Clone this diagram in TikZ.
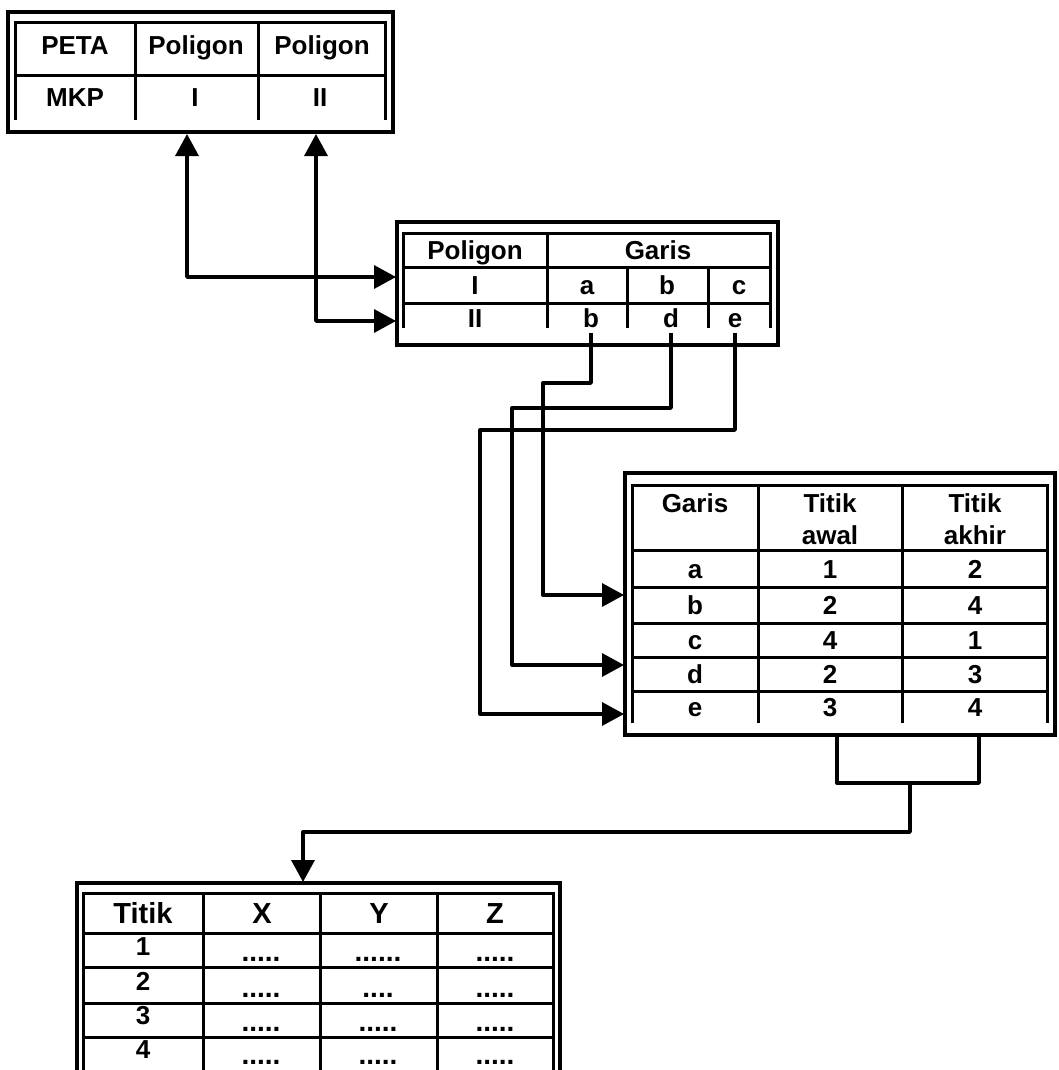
\documentclass[tikz,border=0pt]{standalone}
\usepackage{fontspec}
\setmainfont{Liberation Sans}
\usetikzlibrary{arrows.meta}
\begin{document}
\begin{tikzpicture}[x=1pt,y=-1pt,
  outer/.style={line width=4.4pt},
  inner/.style={line width=3pt},
  conn/.style={line width=3.4pt, line join=round},
  tiparrow/.style={-{Triangle[length=22pt,width=23pt]}},
  bothtips/.style={{Triangle[length=22pt,width=23pt]}-{Triangle[length=22pt,width=23pt]}},
  t/.style={font=\fontsize{26}{28}\selectfont\bfseries, inner sep=0pt, text height=18.5pt, text depth=0pt},
  th/.style={font=\fontsize{29}{30}\selectfont\bfseries, inner sep=0pt, text height=21pt, text depth=0pt},
  dotrow/.style={font=\fontsize{28}{30}\selectfont\bfseries, inner sep=0pt, anchor=base}
]
\useasboundingbox (0,0) rectangle (1058,1070);
\clip (0,0) rectangle (1058,1070);

% ---------- Table 1 : PETA ----------
\draw[outer] (8,12) rectangle (393,132);
\draw[inner] (15,120) -- (15,23) -- (385,23) -- (385,120);
\draw[inner] (15,76) -- (385,76);
\draw[inner] (135,23) -- (135,120);
\draw[inner] (258,23) -- (258,120);
\node[t] (peta) at (75,45) {PETA};
\node[t] (pol1) at (196,45) {Poligon};
\node[t] (pol2) at (322,45) {Poligon};
\node[t] (mkp) at (75,97) {MKP};
\node[t] (rI) at (195,97) {I};
\node[t] (rII) at (320,97) {II};

% ---------- Table 2 : Poligon / Garis ----------
\draw[outer] (397,222) rectangle (778,345);
\draw[inner] (403,328) -- (403,233) -- (770,233) -- (770,328);
\draw[inner] (403,267) -- (770,267);
\draw[inner] (403,303) -- (770,303);
\draw[inner] (547,233) -- (547,328);
\draw[inner] (627,267) -- (627,328);
\draw[inner] (708,267) -- (708,328);
\node[t] (h2a) at (475,250) {Poligon};
\node[t] (h2b) at (658,250) {Garis};
\node[t] (p2I) at (475,285) {I};
\node[t] (p2a) at (587,285) {a};
\node[t] (p2b) at (667,285) {b};
\node[t] (p2c) at (739,285) {c};
\node[t] (p2II) at (475,318) {II};
\node[t] (q2b) at (591,318) {b};
\node[t] (q2d) at (671,318) {d};
\node[t] (q2e) at (735,318) {e};

% ---------- Table 3 : Garis / Titik ----------
\draw[outer] (625,473) rectangle (1055,735);
\draw[inner] (632,723) -- (632,485) -- (1047,485) -- (1047,723);
\draw[inner] (632,550) -- (1047,550);
\draw[inner] (632,587) -- (1047,587);
\draw[inner] (632,623) -- (1047,623);
\draw[inner] (632,657) -- (1047,657);
\draw[inner] (632,691) -- (1047,691);
\draw[inner] (758,485) -- (758,723);
\draw[inner] (902,485) -- (902,723);
\node[t] (h3a) at (695,503) {Garis};
\node[t] (h3b1) at (830,503) {Titik};
\node[t] (h3b2) at (830,535) {awal};
\node[t] (h3c1) at (975,503) {Titik};
\node[t] (h3c2) at (975,535) {akhir};
\foreach \g/\s/\e/\y [count=\i] in {a/1/2/569, b/2/4/605, c/4/1/640, d/2/3/674, e/3/4/707}{
  \node[t] (g\i) at (695,\y) {\g};
  \node[t] (s\i) at (830,\y) {\s};
  \node[t] (e\i) at (975,\y) {\e};
}

% ---------- Table 4 : Titik X Y Z ----------
\draw[outer] (77,1080) -- (77,883) -- (560,883) -- (560,1080);
\draw[inner] (83,1080) -- (83,893) -- (553,893) -- (553,1080);
\draw[inner] (83,933) -- (553,933);
\draw[inner] (83,967) -- (553,967);
\draw[inner] (83,1003) -- (553,1003);
\draw[inner] (83,1037) -- (553,1037);
\draw[inner] (203,893) -- (203,1080);
\draw[inner] (320,893) -- (320,1080);
\draw[inner] (437,893) -- (437,1080);
\node[th] (h4a) at (143,913) {Titik};
\node[th] (h4x) at (262,913) {X};
\node[th] (h4y) at (379,913) {Y};
\node[th] (h4z) at (495,913) {Z};
\node[t] (n1) at (143,946) {1};
\node[t] (n2) at (143,981) {2};
\node[t] (n3) at (143,1015) {3};
\node[t] (n4) at (143,1049) {4};
\node[dotrow] (d1x) at (261,961) {.....};
\node[dotrow] (d1y) at (378,961) {......};
\node[dotrow] (d1z) at (495,961) {.....};
\node[dotrow] (d2x) at (261,997) {.....};
\node[dotrow] (d2y) at (378,997) {....};
\node[dotrow] (d2z) at (495,997) {.....};
\node[dotrow] (d3x) at (261,1031) {.....};
\node[dotrow] (d3y) at (378,1031) {.....};
\node[dotrow] (d3z) at (495,1031) {.....};
\node[dotrow] (d4x) at (261,1064) {.....};
\node[dotrow] (d4y) at (378,1064) {.....};
\node[dotrow] (d4z) at (495,1064) {.....};

% ---------- connector points ----------
\coordinate (a1) at (187,134);
\coordinate (a2) at (316,134);
\coordinate (i1) at (396,277);
\coordinate (i2) at (396,321);
\coordinate (ob) at (591,333);
\coordinate (od) at (671,333);
\coordinate (oe) at (735,333);
\coordinate (kb) at (543,383);
\coordinate (kd) at (512,408);
\coordinate (ke) at (480,430);
\coordinate (rb) at (624,595);
\coordinate (rd) at (624,665);
\coordinate (re) at (624,714);
\coordinate (bl) at (837,736);
\coordinate (br) at (979,736);
\coordinate (bbr) at (979,783);
\coordinate (bm) at (910,783);
\coordinate (bk) at (303,832);
\coordinate (t4) at (303,882);

% ---------- connectors ----------
\draw[conn,bothtips] (a1) |- (i1);
\draw[conn,bothtips] (a2) |- (i2);
\draw[conn,tiparrow] (ob) |- (kb) |- (rb);
\draw[conn,tiparrow] (od) |- (kd) |- (rd);
\draw[conn,tiparrow] (oe) |- (ke) |- (re);
\draw[conn] (bl) |- (bbr) -- (br);
\draw[conn,tiparrow] (bm) |- (bk) -- (t4);
\end{tikzpicture}
\end{document}
